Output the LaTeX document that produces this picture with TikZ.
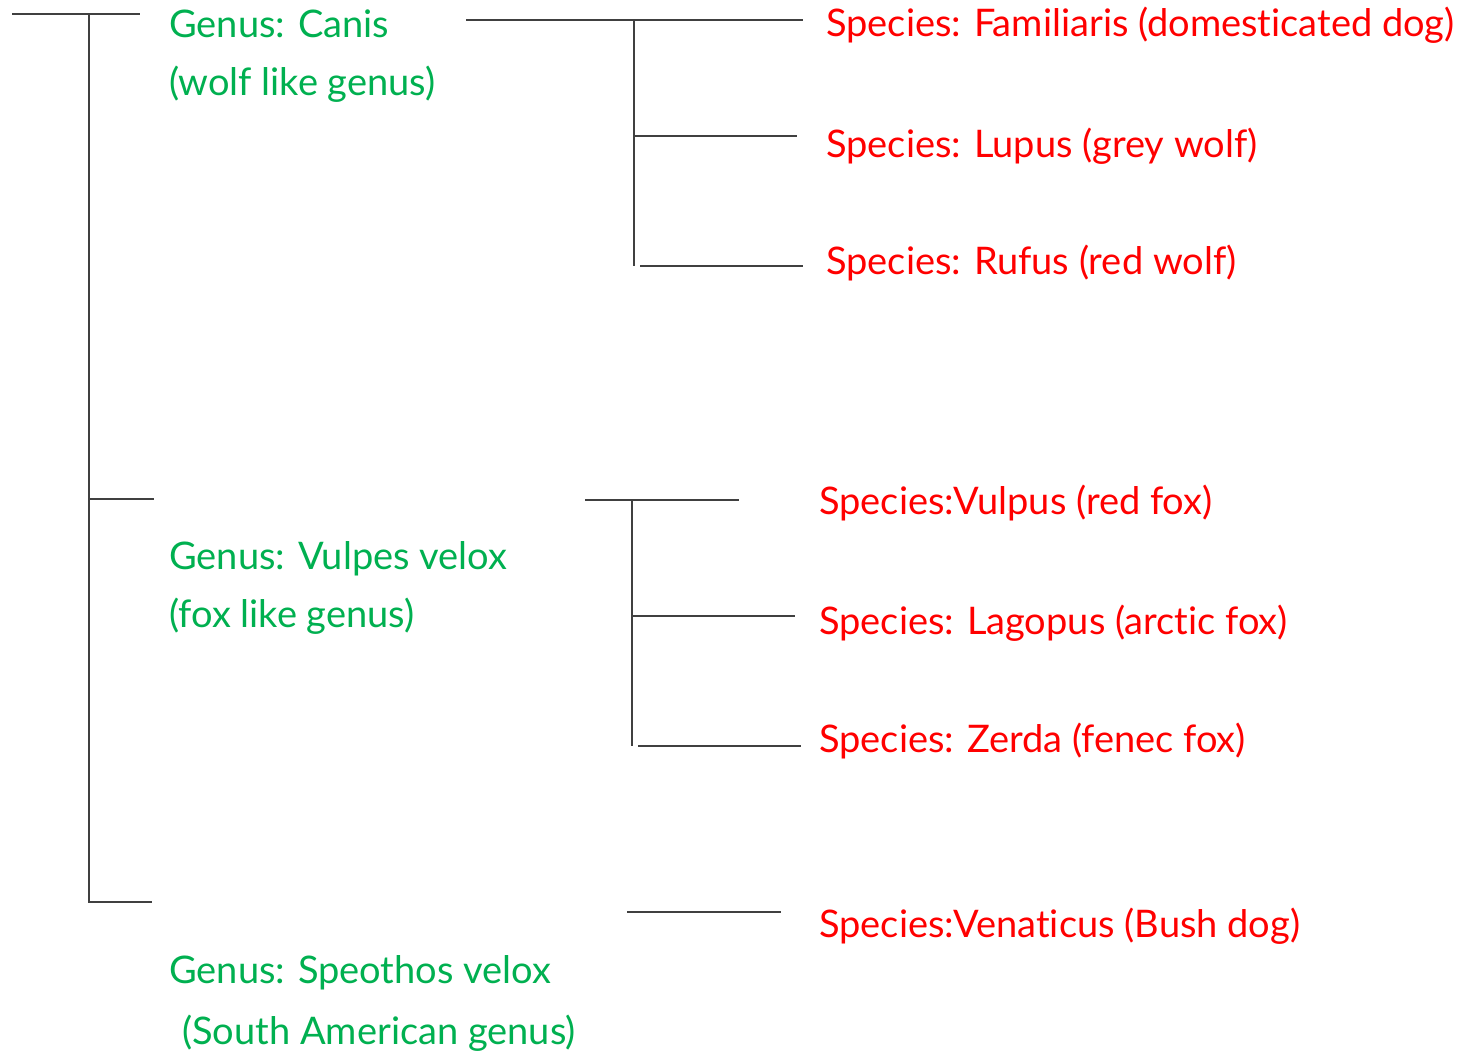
\documentclass[tikz,border=0pt]{standalone}
\usepackage{fontspec}
\setmainfont{Lato}[Ligatures={NoCommon}]
\definecolor{genusgreen}{HTML}{00B050}
\definecolor{speciesred}{HTML}{FF0000}
\definecolor{branch}{HTML}{404040}
\begin{document}
\begin{tikzpicture}[x=1pt,y=-1pt,
  branchline/.style={draw=branch,line width=2.8pt},
  genuslabel/.style={anchor=base west,inner sep=0pt,text=genusgreen,font=\fontsize{38}{42}\selectfont},
  specieslabel/.style={anchor=base west,inner sep=0pt,text=speciesred,font=\fontsize{38}{42}\selectfont}]
\useasboundingbox[fill=white] (0,0) rectangle (1463,1055);

% family level: root bracket
\coordinate (r0) at (12,14);
\coordinate (rtop) at (89,14);
\coordinate (rtopend) at (140,14);
\coordinate (rmid) at (89,499);
\coordinate (rmidend) at (154,499);
\coordinate (rbot) at (89,902);
\coordinate (rbotend) at (152,902);
\draw[branchline] (r0) -- (rtopend);
\draw[branchline] (rtop) -- (rbot) -- (rbotend);
\draw[branchline] (rmid) -- (rmidend);

% genus labels
\node[genuslabel] (canis1) at (169,37) {Genus: Canis};
\node[genuslabel] (canis2) at (169,95) {(wolf like genus)};
\node[genuslabel] (vulpes1) at (169,569) {Genus: Vulpes velox};
\node[genuslabel] (vulpes2) at (169,627) {(fox like genus)};
\node[genuslabel] (speo1) at (169,983) {Genus: Speothos velox};
\node[genuslabel] (speo2) at (182,1044) {(South American genus)};

% Canis branch
\coordinate (c0) at (466,20);
\coordinate (ctop) at (634,20);
\coordinate (c1) at (803,20);
\coordinate (cmid) at (634,136);
\coordinate (c2) at (797,136);
\coordinate (cbot) at (634,266);
\coordinate (c3s) at (640,266);
\coordinate (c3) at (803,266);
\draw[branchline] (c0) -- (c1);
\draw[branchline] (ctop) -- (cbot);
\draw[branchline] (cmid) -- (c2);
\draw[branchline] (c3s) -- (c3);

% Vulpes branch
\coordinate (v0) at (585,500);
\coordinate (vtop) at (632,500);
\coordinate (v1) at (739,500);
\coordinate (vmid) at (632,616);
\coordinate (v2) at (795,616);
\coordinate (vbot) at (632,746);
\coordinate (v3s) at (638,746);
\coordinate (v3) at (801,746);
\draw[branchline] (v0) -- (v1);
\draw[branchline] (vtop) -- (vbot);
\draw[branchline] (vmid) -- (v2);
\draw[branchline] (v3s) -- (v3);

% Speothos branch
\coordinate (s0) at (627,912);
\coordinate (s1) at (781,912);
\draw[branchline] (s0) -- (s1);

% species labels
\node[specieslabel] (fam) at (826,36) {Species: Familiaris (domesticated dog)};
\node[specieslabel] (lup) at (826,157) {Species: Lupus (grey wolf)};
\node[specieslabel] (ruf) at (826,274) {Species: Rufus (red wolf)};
\node[specieslabel] (vul) at (819,514) {Species:Vulpus (red fox)};
\node[specieslabel] (lag) at (819,634) {Species: Lagopus (arctic fox)};
\node[specieslabel] (zer) at (819,752) {Species: Zerda (fenec fox)};
\node[specieslabel] (ven) at (819,937) {Species:Venaticus (Bush dog)};
\end{tikzpicture}
\end{document}
